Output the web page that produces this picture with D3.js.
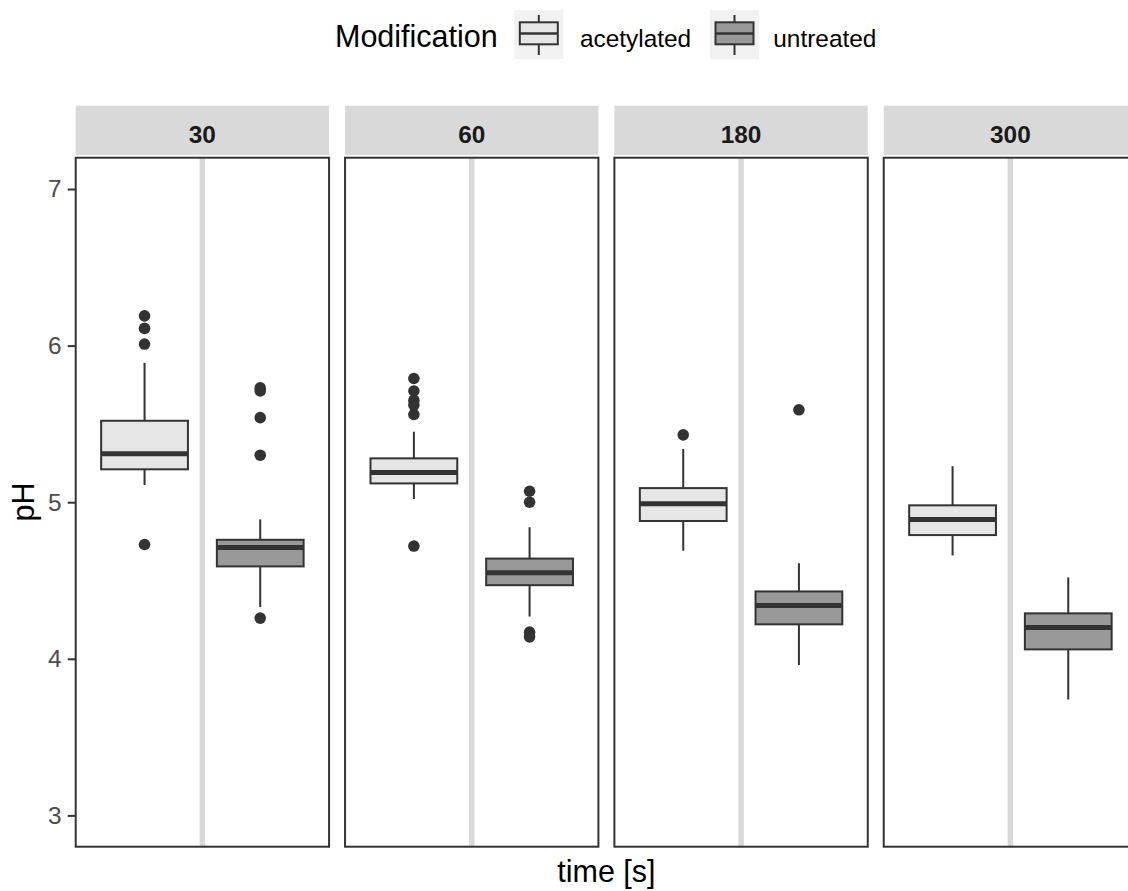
<!DOCTYPE html>
<html>
<head>
<meta charset="utf-8">
<script src="https://cdn.jsdelivr.net/npm/d3@7"></script>
<style>
  html, body { margin: 0; padding: 0; background: #fff; }
  svg { display: block; font-family: "Liberation Sans", Arial, sans-serif; }
</style>
</head>
<body>
<svg id="chart" width="1128" height="891"></svg>
<script>
// ---- data ----
const times = ["30", "60", "180", "300"];
const modifications = ["acetylated", "untreated"];
const yTicks = [3, 4, 5, 6, 7];

// per time: [whiskerLow, q1, median, q3, whiskerHigh]
const acetylatedStats = [
  [5.11, 5.21, 5.31, 5.52, 5.89],
  [5.02, 5.12, 5.19, 5.28, 5.45],
  [4.69, 4.88, 4.99, 5.09, 5.34],
  [4.66, 4.79, 4.89, 4.98, 5.23]
];
const untreatedStats = [
  [4.33, 4.59, 4.71, 4.76, 4.89],
  [4.27, 4.47, 4.55, 4.64, 4.84],
  [3.96, 4.22, 4.34, 4.43, 4.61],
  [3.74, 4.06, 4.20, 4.29, 4.52]
];
const acetylatedOutliers = [
  [6.19, 6.11, 6.01, 4.73],
  [5.79, 5.71, 5.65, 5.62, 5.56, 4.72],
  [5.43],
  []
];
const untreatedOutliers = [
  [5.73, 5.71, 5.54, 5.30, 4.26],
  [5.07, 5.00, 4.17, 4.14],
  [5.59],
  []
];
const fills = ["#e6e6e6", "#999999"];

// ---- layout ----
const svg = d3.select("#chart");
const panelTop = 157.7, panelBottom = 846.7;
const stripTop = 105.7, stripBottom = 155;

const fx = d3.scaleBand().domain(times).range([75.7, 1137.1]).paddingInner(0.0593).paddingOuter(0);
const pw = fx.bandwidth();
const xm = d3.scaleBand().domain(modifications).range([0, pw]).paddingInner(0.25).paddingOuter(0.22);
const y = d3.scaleLinear().domain([2.8, 7.2]).range([panelBottom, panelTop]);

const statsBy = { acetylated: acetylatedStats, untreated: untreatedStats };
const outBy = { acetylated: acetylatedOutliers, untreated: untreatedOutliers };
const fillBy = d3.scaleOrdinal().domain(modifications).range(fills);

const dark = "#333333";

times.forEach((t, ti) => {
  const g = svg.append("g").attr("transform", `translate(${fx(t)},0)`);
  // strip
  g.append("rect").attr("x", 0).attr("y", stripTop).attr("width", pw).attr("height", stripBottom - stripTop).attr("fill", "#d9d9d9");
  g.append("text").attr("x", pw / 2).attr("y", 143.3).attr("text-anchor", "middle")
    .attr("font-size", 24.4).attr("font-weight", "bold").attr("fill", "#1a1a1a").text(t);
  // panel bg
  g.append("rect").attr("x", 0).attr("y", panelTop).attr("width", pw).attr("height", panelBottom - panelTop).attr("fill", "#fff");
  // vertical grid line
  g.append("line").attr("x1", pw / 2).attr("x2", pw / 2).attr("y1", panelTop).attr("y2", panelBottom)
    .attr("stroke", "#d9d9d9").attr("stroke-width", 5.5);

  modifications.forEach(m => {
    const s = statsBy[m][ti];
    const x0 = xm(m), bw = xm.bandwidth(), cx = x0 + bw / 2;
    const bg = g.append("g");
    // whiskers
    bg.append("line").attr("x1", cx).attr("x2", cx).attr("y1", y(s[4])).attr("y2", y(s[3]))
      .attr("stroke", dark).attr("stroke-width", 2);
    bg.append("line").attr("x1", cx).attr("x2", cx).attr("y1", y(s[1])).attr("y2", y(s[0]))
      .attr("stroke", dark).attr("stroke-width", 2);
    // box
    bg.append("rect").attr("x", x0).attr("y", y(s[3])).attr("width", bw).attr("height", y(s[1]) - y(s[3]))
      .attr("fill", fillBy(m)).attr("stroke", dark).attr("stroke-width", 2);
    // median
    bg.append("line").attr("x1", x0).attr("x2", x0 + bw).attr("y1", y(s[2])).attr("y2", y(s[2]))
      .attr("stroke", dark).attr("stroke-width", 5);
    // outliers
    bg.selectAll("circle.o").data(outBy[m][ti]).enter().append("circle")
      .attr("class", "o").attr("cx", cx).attr("cy", d => y(d)).attr("r", 5.8).attr("fill", dark);
  });

  // panel border
  g.append("rect").attr("x", 0).attr("y", panelTop).attr("width", pw).attr("height", panelBottom - panelTop)
    .attr("fill", "none").attr("stroke", dark).attr("stroke-width", 2);
});

// y axis on first panel
const yAxis = d3.axisLeft(y).tickValues(yTicks).tickSize(8).tickPadding(6).tickFormat(d3.format("d"));
const ya = svg.append("g").attr("transform", `translate(${fx(times[0])},0)`).call(yAxis);
ya.select(".domain").remove();
ya.selectAll(".tick line").attr("stroke", dark).attr("stroke-width", 2);
ya.selectAll(".tick text").attr("font-size", 24.4).attr("fill", "#4d4d4d")
  .attr("font-family", "Liberation Sans, Arial, sans-serif");

// axis titles
svg.append("text").attr("transform", "translate(34,502) rotate(-90)").attr("text-anchor", "middle")
  .attr("font-size", 30.5).attr("fill", "#000").text("pH");
svg.append("text").attr("x", (fx(times[0]) + fx(times[times.length - 1]) + pw) / 2).attr("y", 882)
  .attr("text-anchor", "middle").attr("font-size", 30.5).attr("fill", "#000").text("time [s]");

// legend
const lg = svg.append("g");
lg.append("text").attr("x", 335).attr("y", 47.3).attr("font-size", 30.5).attr("fill", "#000").text("Modification");
const keyX = [514.3, 710];
const labX = [580, 773.3];
modifications.forEach((m, i) => {
  const kx = keyX[i];
  lg.append("rect").attr("x", kx).attr("y", 10).attr("width", 49).attr("height", 49).attr("fill", "#f2f2f2");
  const kcx = kx + 24.5;
  lg.append("line").attr("x1", kcx).attr("x2", kcx).attr("y1", 15).attr("y2", 55).attr("stroke", dark).attr("stroke-width", 2);
  lg.append("rect").attr("x", kx + 5.5).attr("y", 22.3).attr("width", 38).attr("height", 22)
    .attr("fill", fillBy(m)).attr("stroke", dark).attr("stroke-width", 2);
  lg.append("line").attr("x1", kx + 5.5).attr("x2", kx + 43.5).attr("y1", 33.5).attr("y2", 33.5)
    .attr("stroke", dark).attr("stroke-width", 2.5);
  lg.append("text").attr("x", labX[i]).attr("y", 46.7).attr("font-size", 24.4).attr("fill", "#000").text(m);
});
</script>
</body>
</html>
